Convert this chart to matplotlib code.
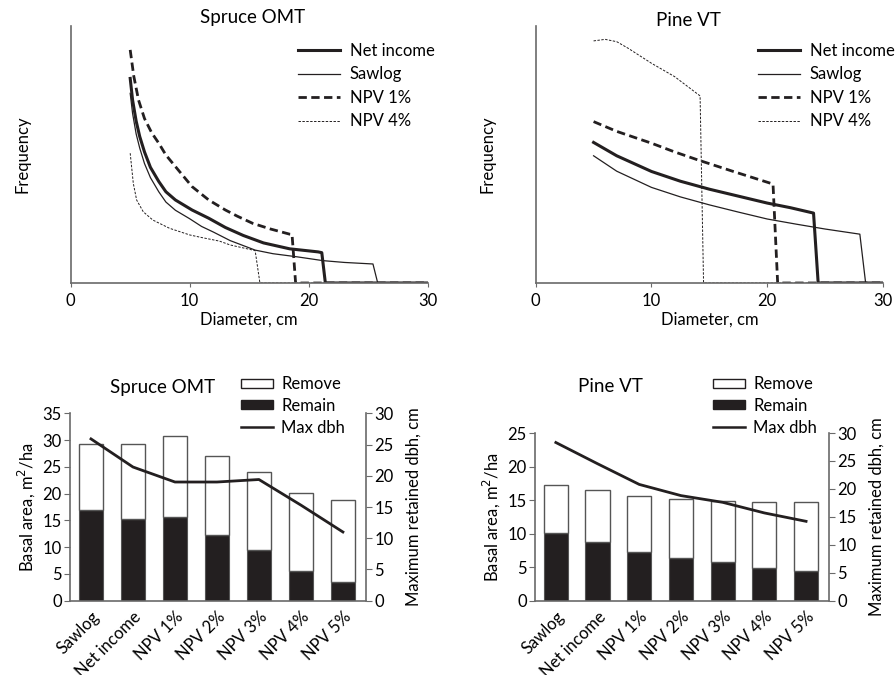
import matplotlib
matplotlib.use("Agg")
import matplotlib.pyplot as plt
from matplotlib.patches import Patch
from matplotlib.lines import Line2D

plt.rcParams["font.family"] = ["Lato", "DejaVu Sans"]
plt.rcParams["font.size"] = 12

INK = "#231f20"
AXIS = "#6a6a6a"
W, H = 896, 675

# ---- diameter distributions (frequency in arbitrary units, axis top = 100)
spruce_net_d = [5, 5.2, 5.5, 5.8, 6.2, 6.7, 7.4, 8, 8.8, 10.2, 11.6, 13, 14.5, 16.2, 18.4, 20.8, 21.1, 21.4, 30]
spruce_net_f = [79.6, 71.2, 63, 57, 51, 45, 39.5, 35.5, 32.3, 28.4, 25.2, 21.6, 18.5, 15.6, 13.3, 12.1, 11.8, 0, 0]
spruce_saw_d = [5, 5.2, 5.5, 5.8, 6.2, 6.7, 7.4, 8, 8.8, 10, 11, 12, 13.4, 15.5, 17, 19, 21.2, 23, 25.4, 25.8, 30]
spruce_saw_f = [73.8, 66, 58, 52.5, 46.5, 41, 35.5, 31.5, 28.3, 25, 22, 19.8, 16.5, 12.8, 11.4, 10.2, 8.7, 8.0, 7.4, 0, 0]
spruce_npv1_d = [5, 5.3, 5.7, 6.2, 6.8, 7.4, 8, 8.8, 10.2, 11.6, 13, 14, 15.3, 16.8, 18.4, 18.6, 18.9, 30]
spruce_npv1_f = [90.7, 80.5, 71.2, 64, 58.5, 54.4, 49.8, 45.3, 37.5, 32.3, 28.4, 26.0, 23.2, 21.0, 19.0, 18.9, 0, 0]
spruce_npv4_d = [5, 5.26, 5.54, 6.1, 6.9, 8.3, 10, 11, 12.5, 13.4, 15.5, 15.9, 30]
spruce_npv4_f = [50.5, 38.8, 32.3, 27.7, 24.5, 21.3, 18.7, 17.7, 16.3, 14.8, 12.6, 0, 0]

pine_net_d = [5, 7, 10, 12.5, 15, 17.5, 20, 22, 24, 24.4, 30]
pine_net_f = [54.7, 49.5, 43.4, 39.6, 36.5, 33.8, 31.1, 29.3, 27.2, 0, 0]
pine_saw_d = [5, 7, 10, 12.5, 15, 17.5, 20, 22.5, 25, 28, 28.5, 30]
pine_saw_f = [49.5, 43.5, 37.2, 33.5, 30.4, 27.6, 24.9, 22.9, 21.0, 19.0, 0, 0]
pine_npv1_d = [5, 7, 10, 12, 14, 17, 20.5, 20.9, 30]
pine_npv1_f = [62.8, 59.0, 54.4, 51.0, 47.9, 43.5, 38.5, 0, 0]
pine_npv4_d = [5, 6, 7, 8, 10, 12, 14.2, 14.5, 30]
pine_npv4_f = [94.2, 94.8, 93.9, 91.3, 85.5, 80.3, 72.8, 0, 0]

# ---- basal area and max retained dbh by objective
methods = ["Sawlog", "Net income", "NPV 1%", "NPV 2%", "NPV 3%", "NPV 4%", "NPV 5%"]
spruce_remain = [17.0, 15.2, 15.6, 12.2, 9.5, 5.5, 3.4]
spruce_remove = [12.3, 14.1, 15.1, 14.8, 14.5, 14.7, 15.5]
spruce_maxdbh = [25.9, 21.4, 19.0, 19.0, 19.4, 15.3, 11.0]
pine_remain = [10.1, 8.7, 7.2, 6.3, 5.8, 4.9, 4.4]
pine_remove = [7.1, 7.8, 8.4, 8.9, 9.1, 9.8, 10.3]
pine_maxdbh = [28.3, 24.5, 20.8, 18.8, 17.6, 15.7, 14.2]


def px_axes(fig, x0, y0, x1, y1):
    """axes from pixel box (top-left origin)"""
    return fig.add_axes([x0 / W, 1 - y1 / H, (x1 - x0) / W, (y1 - y0) / H])


def dist_panel(fig, box, title, title_xy, series, leg_xy):
    ax = px_axes(fig, *box)
    styles = [
        dict(color=INK, lw=2.2, ls="-"),
        dict(color=INK, lw=0.9, ls="-"),
        dict(color=INK, lw=2.0, ls=(0, (3, 1.6))),
        dict(color=INK, lw=0.7, ls=(0, (2.5, 1.5))),
    ]
    labels = ["Net income", "Sawlog", "NPV 1%", "NPV 4%"]
    handles = []
    for (d, f), st, lab in zip(series, styles, labels):
        (h,) = ax.plot(d, f, label=lab, **st)
        handles.append(h)
    ax.set_xlim(0, 30)
    ax.set_ylim(0, 100)
    ax.set_xticks([0, 10, 20, 30])
    ax.set_yticks([])
    for s in ["top", "right"]:
        ax.spines[s].set_visible(False)
    for s in ["left", "bottom"]:
        ax.spines[s].set_color(AXIS)
        ax.spines[s].set_linewidth(1.2)
    ax.tick_params(axis="x", length=3, color=AXIS, pad=4)
    ax.set_xlabel("Diameter, cm", labelpad=2)
    ax.set_ylabel("Frequency", labelpad=29)
    fig.text(title_xy[0] / W, 1 - title_xy[1] / H, title, ha="center", va="center", fontsize=13.5)
    fig.legend(handles=handles, loc="upper left", bbox_to_anchor=(leg_xy[0] / W, 1 - leg_xy[1] / H),
               frameon=False, handlelength=2.5, handletextpad=0.6, labelspacing=0.45,
               borderaxespad=0, borderpad=0)
    return ax


def bar_panel(fig, box, title, title_xy, remain, remove, maxdbh, ymax, leg_xy):
    ax = px_axes(fig, *box)
    x = range(len(methods))
    ax.bar(x, remain, width=0.58, color=INK, edgecolor="#555555", lw=0.8, zorder=2)
    ax.bar(x, remove, bottom=remain, width=0.58, color="white", edgecolor="#555555", lw=1.0, zorder=2)
    ax.set_xlim(-0.5, 6.55)
    ax.set_ylim(0, ymax)
    ax.set_yticks(range(0, ymax + 1, 5))
    ax.set_xticks(list(x))
    ax.set_xticklabels(methods, rotation=45, ha="right", rotation_mode="anchor")
    ax.tick_params(axis="x", length=0, pad=6)
    ax.tick_params(axis="y", length=4, color=AXIS, pad=2)
    ax.spines["top"].set_visible(False)
    ax.spines["right"].set_visible(False)
    for s in ["left", "bottom"]:
        ax.spines[s].set_color(AXIS)
        ax.spines[s].set_linewidth(1.2)
    ax.set_ylabel("Basal area, m$^2$/ha", labelpad=4)

    ax2 = ax.twinx()
    ax2.plot(list(x), maxdbh, color=INK, lw=2.0, zorder=3)
    ax2.set_ylim(0, 30)
    ax2.set_yticks(range(0, 31, 5))
    ax2.tick_params(axis="y", length=4, color=AXIS, pad=2)
    for s in ["top", "left", "bottom"]:
        ax2.spines[s].set_visible(False)
    ax2.spines["right"].set_color(AXIS)
    ax2.spines["right"].set_linewidth(1.2)
    ax2.set_ylabel("Maximum retained dbh, cm", labelpad=9)

    fig.text(title_xy[0] / W, 1 - title_xy[1] / H, title, ha="center", va="center", fontsize=13.5)
    handles = [
        Patch(facecolor="white", edgecolor=INK, lw=1.0, label="Remove"),
        Patch(facecolor=INK, edgecolor=INK, label="Remain"),
        Line2D([0], [0], color=INK, lw=1.8, label="Max dbh"),
    ]
    fig.legend(handles=handles, loc="upper left", bbox_to_anchor=(leg_xy[0] / W, 1 - leg_xy[1] / H),
               frameon=False, handlelength=1.9, handleheight=0.45, handletextpad=0.5,
               labelspacing=0.35, borderaxespad=0, borderpad=0)


fig = plt.figure(figsize=(W / 100, H / 100), dpi=100)

dist_panel(fig, (70.7, 26, 427.7, 283), "Spruce OMT", (253, 18),
           [(spruce_net_d, spruce_net_f), (spruce_saw_d, spruce_saw_f),
            (spruce_npv1_d, spruce_npv1_f), (spruce_npv4_d, spruce_npv4_f)],
           (298, 43))
dist_panel(fig, (535.7, 26, 883, 283), "Pine VT", (688, 20),
           [(pine_net_d, pine_net_f), (pine_saw_d, pine_saw_f),
            (pine_npv1_d, pine_npv1_f), (pine_npv4_d, pine_npv4_f)],
           (758, 43))

bar_panel(fig, (70, 413.3, 366, 600.7), "Spruce OMT", (163, 387),
          spruce_remain, spruce_remove, spruce_maxdbh, 35, (241, 376))
bar_panel(fig, (535, 433, 829, 600.7), "Pine VT", (610, 387),
          pine_remain, pine_remove, pine_maxdbh, 25, (713, 376))

fig.savefig("out.png", dpi=100, facecolor="white")
